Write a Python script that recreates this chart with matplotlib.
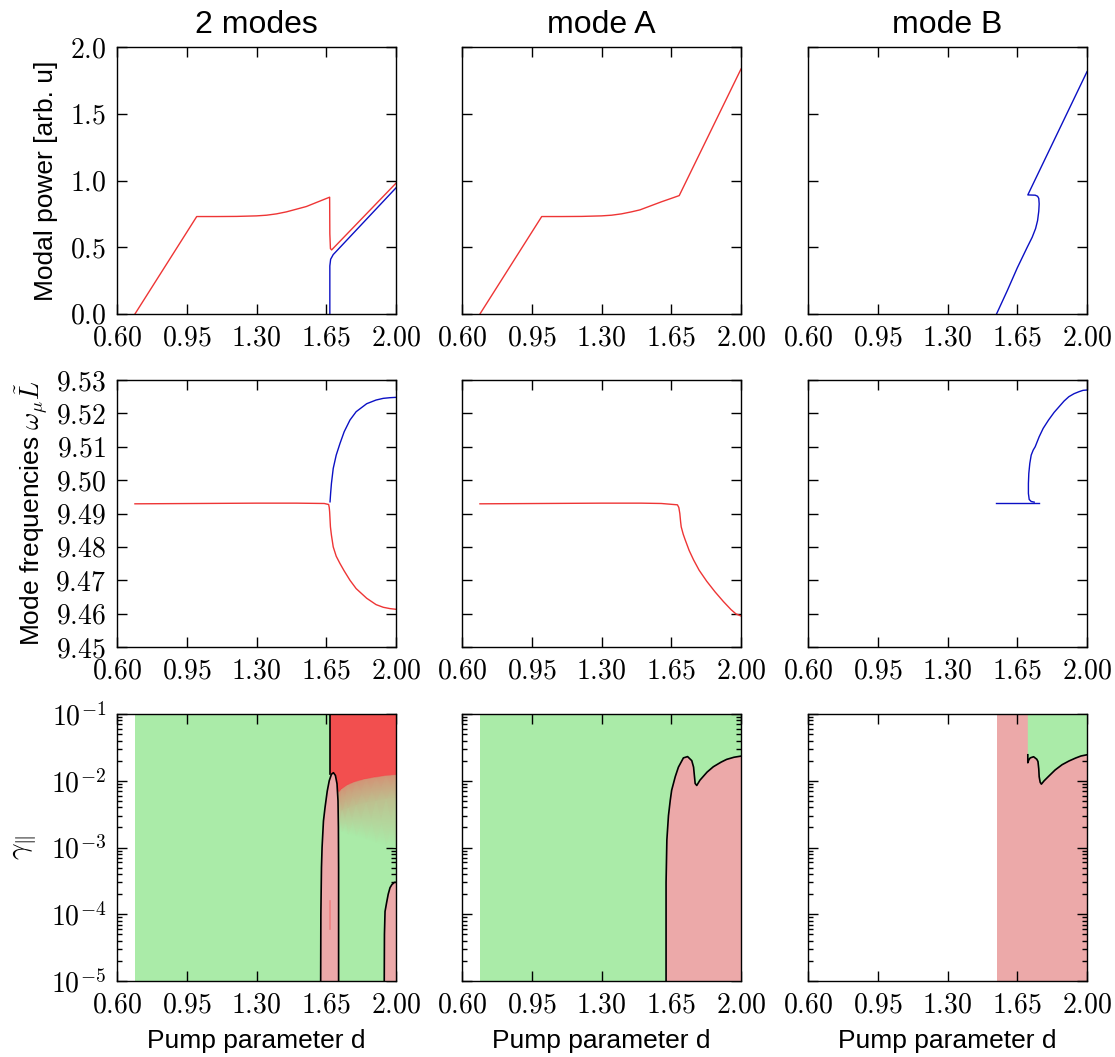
import numpy as np
import matplotlib
matplotlib.use('Agg')
import matplotlib.pyplot as plt
from matplotlib.colors import LinearSegmentedColormap

# ---- data ----
titles = ['2 modes', 'mode A', 'mode B']
x_ticks = [0.60, 0.95, 1.30, 1.65, 2.00]
power_ticks = [0.0, 0.5, 1.0, 1.5, 2.0]
freq_ticks = [9.45, 9.46, 9.47, 9.48, 9.49, 9.50, 9.51, 9.52, 9.53]
gamma_ticks = [1e-5, 1e-4, 1e-3, 1e-2, 1e-1]
gamma_labels = [r'$10^{-5}$', r'$10^{-4}$', r'$10^{-3}$', r'$10^{-2}$', r'$10^{-1}$']

# modal power
pow2_red_x = [0.69, 1.00, 1.10, 1.20, 1.30, 1.35, 1.40, 1.45, 1.50, 1.55, 1.60, 1.667, 1.668, 1.671, 1.677, 2.00]
pow2_red_y = [0.00, 0.73, 0.73, 0.731, 0.735, 0.74, 0.75, 0.765, 0.785, 0.805, 0.835, 0.875, 0.60, 0.49, 0.48, 0.98]
pow2_blue_x = [1.668, 1.668, 1.672, 1.685, 2.00]
pow2_blue_y = [0.00, 0.36, 0.41, 0.445, 0.945]
powA_x = [0.69, 1.00, 1.10, 1.20, 1.30, 1.35, 1.40, 1.45, 1.493, 1.55, 1.60, 1.65, 1.69, 2.00]
powA_y = [0.00, 0.73, 0.73, 0.731, 0.735, 0.74, 0.75, 0.765, 0.78, 0.812, 0.84, 0.866, 0.887, 1.835]
powB_x = [1.546, 1.60, 1.65, 1.70, 1.725, 1.742, 1.752, 1.758, 1.760, 1.758, 1.752, 1.740, 1.703, 2.00]
powB_y = [0.00, 0.175, 0.345, 0.50, 0.575, 0.64, 0.70, 0.77, 0.825, 0.866, 0.882, 0.890, 0.892, 1.815]

# mode frequencies
fr2_red_x = [0.69, 1.00, 1.30, 1.50, 1.64, 1.662, 1.665, 1.667, 1.671, 1.676, 1.685, 1.70, 1.719, 1.74, 1.769,
             1.80, 1.853, 1.90, 1.936, 1.97, 2.00]
fr2_red_y = [9.4929, 9.4930, 9.4931, 9.4931, 9.4930, 9.4927, 9.4918, 9.4905, 9.4860, 9.4835, 9.4800, 9.4772,
             9.4750, 9.4728, 9.4700, 9.4675, 9.4646, 9.4627, 9.4619, 9.4615, 9.4613]
fr2_blue_x = [1.669, 1.672, 1.676, 1.685, 1.70, 1.719, 1.74, 1.769, 1.80, 1.853, 1.90, 1.936, 1.97, 2.00]
fr2_blue_y = [9.4935, 9.4961, 9.4990, 9.5035, 9.5075, 9.5110, 9.5145, 9.5180, 9.5205, 9.5229, 9.5240, 9.5245,
              9.5247, 9.5248]
frA_x = [0.69, 1.00, 1.30, 1.50, 1.60, 1.681, 1.688, 1.693, 1.697, 1.70, 1.71, 1.72, 1.74, 1.762, 1.79, 1.828,
         1.87, 1.912, 1.95, 1.975, 2.00]
frA_y = [9.4929, 9.4930, 9.4931, 9.4931, 9.4930, 9.4926, 9.4918, 9.4900, 9.4875, 9.4860, 9.4838, 9.4821, 9.4789,
         9.4761, 9.4730, 9.4697, 9.4665, 9.4636, 9.4612, 9.4599, 9.4593]
frB_flat_x = [1.541, 1.76]
frB_flat_y = [9.4932, 9.4932]
frB_x = [1.735, 1.72, 1.71, 1.706, 1.706, 1.708, 1.713, 1.72, 1.73, 1.74, 1.76, 1.78, 1.807, 1.835, 1.86, 1.885,
         1.909, 1.935, 1.96, 1.98, 2.00]
frB_y = [9.4934, 9.4936, 9.4942, 9.4960, 9.4990, 9.5020, 9.5050, 9.5075, 9.5090, 9.5100, 9.5130, 9.5155, 9.5180,
         9.5203, 9.5220, 9.5237, 9.5250, 9.5259, 9.5265, 9.5269, 9.5270]

# stability maps (gamma_parallel vs d)
stable_start = 0.69
bump1_x = [1.622, 1.623, 1.626, 1.629, 1.636, 1.644, 1.655, 1.665, 1.676, 1.686, 1.696, 1.704, 1.709, 1.711, 1.712, 1.712]
bump1_y = [1e-5, 1e-4, 5e-4, 1e-3, 2.5e-3, 4e-3, 7e-3, 1.0e-2, 1.25e-2, 1.32e-2, 1.2e-2, 9e-3, 5e-3, 2e-3, 5e-4, 1e-5]
bump2_x = [1.941, 1.942, 1.945, 1.953, 1.961, 1.970, 1.980, 1.992, 2.00]
bump2_y = [1e-5, 5e-5, 1.1e-4, 1.5e-4, 2.0e-4, 2.5e-4, 2.8e-4, 3.0e-4, 3.0e-4]
red_edge_x = [1.671, 1.671]
red_edge_y = [1.25e-2, 1e-1]
streak_x = [1.668, 1.668]
streak_y = [6e-5, 1.6e-4]
fade_x = [1.671, 1.712, 1.73, 1.76, 1.80, 1.85, 1.90, 1.95, 2.00]
fade_arc = [1.30e-2, 6.6e-3, 7.6e-3, 8.8e-3, 9.8e-3, 1.07e-2, 1.14e-2, 1.20e-2, 1.23e-2]
fade_arc_lo = [1.26e-2, 6.4e-3, 7.4e-3, 8.5e-3, 9.5e-3, 1.04e-2, 1.10e-2, 1.16e-2, 1.19e-2]
fade_mid = [5e-3, 3.5e-3, 3.6e-3, 3.9e-3, 4.3e-3, 4.7e-3, 5.0e-3, 5.3e-3, 5.5e-3]
fade_end = [2.5e-3, 1.8e-3, 1.75e-3, 1.6e-3, 1.5e-3, 1.35e-3, 1.2e-3, 1.1e-3, 1.0e-3]
fade_level = [1.0, 1.0, 0.55, 0.28, 0.0]

mapA_x = [1.624, 1.624, 1.628, 1.636, 1.645, 1.652, 1.67, 1.686, 1.711, 1.732, 1.753, 1.762, 1.766, 1.770, 1.778,
          1.794, 1.83, 1.861, 1.90, 1.928, 1.965, 2.00]
mapA_y = [1e-5, 3e-4, 1.3e-3, 3e-3, 5.1e-3, 7.2e-3, 1.15e-2, 1.6e-2, 2.2e-2, 2.3e-2, 2.0e-2, 1.6e-2, 1.2e-2, 9.1e-3, 8.5e-3,
          1.02e-2, 1.35e-2, 1.62e-2, 1.9e-2, 2.09e-2, 2.25e-2, 2.34e-2]

mapB_start = 1.546
mapB_x = [1.703, 1.703, 1.708, 1.715, 1.732, 1.748, 1.754, 1.758, 1.760, 1.765, 1.771, 1.785, 1.808, 1.84, 1.875,
          1.91, 1.943, 1.97, 2.00]
mapB_y = [2.45e-2, 1.86e-2, 2.05e-2, 2.2e-2, 2.29e-2, 2.1e-2, 1.94e-2, 1.5e-2, 1.15e-2, 9.5e-3, 8.9e-3, 1.0e-2, 1.17e-2,
          1.45e-2, 1.74e-2, 1.98e-2, 2.19e-2, 2.35e-2, 2.45e-2]

# ---- style ----
plt.rcParams['font.family'] = ['Liberation Sans', 'DejaVu Sans']
plt.rcParams['mathtext.fontset'] = 'cm'
plt.rcParams['xtick.direction'] = 'in'
plt.rcParams['ytick.direction'] = 'in'
plt.rcParams['xtick.top'] = True
plt.rcParams['ytick.right'] = True
plt.rcParams['xtick.major.size'] = 7
plt.rcParams['ytick.major.size'] = 7
plt.rcParams['xtick.minor.size'] = 3.5
plt.rcParams['ytick.minor.size'] = 3.5
plt.rcParams['xtick.major.width'] = 1.0
plt.rcParams['ytick.major.width'] = 1.0
plt.rcParams['ytick.minor.width'] = 1.0
plt.rcParams['axes.linewidth'] = 1.0

red = '#ee3535'
blue = '#0b10c4'
green_fill = '#aaeba8'
pink_fill = '#eca9a9'
red_fill = '#f24f4f'
tick_fs = 20
label_fs = 19

W, H = 1115, 1057
fig = plt.figure(figsize=(W / 100, H / 100), dpi=100)

col_left = [117, 462, 808]
row_top = [47, 380, 714]
ax_w, ax_h = 279, 267

axes = []
for r in range(3):
    row = []
    for c in range(3):
        ax = fig.add_axes([col_left[c] / W, 1 - (row_top[r] + ax_h) / H, ax_w / W, ax_h / H])
        row.append(ax)
    axes.append(row)

# row 1: modal power
axes[0][0].plot(pow2_blue_x, pow2_blue_y, color=blue, lw=1.0)
axes[0][0].plot(pow2_red_x, pow2_red_y, color=red, lw=1.0)
axes[0][1].plot(powA_x, powA_y, color=red, lw=1.0)
axes[0][2].plot(powB_x, powB_y, color=blue, lw=1.0)

# row 2: frequencies
axes[1][0].plot(fr2_blue_x, fr2_blue_y, color=blue, lw=1.0)
axes[1][0].plot(fr2_red_x, fr2_red_y, color=red, lw=1.0)
axes[1][1].plot(frA_x, frA_y, color=red, lw=1.0)
axes[1][2].plot(frB_flat_x, frB_flat_y, color=blue, lw=1.0)
axes[1][2].plot(frB_x, frB_y, color=blue, lw=1.0)

# row 3: stability maps
gr_cmap = LinearSegmentedColormap.from_list('gr', [green_fill, red_fill])

ax = axes[2][0]
ax.set_yscale('log')
ax.fill([stable_start, 2.0, 2.0, stable_start], [1e-5, 1e-5, 1e-1, 1e-1], color=green_fill, lw=0, zorder=1)
fx = np.array([fade_x] * 5)
fy = np.array([[1e-1] * len(fade_x), fade_arc, fade_arc_lo, fade_mid, fade_end])
fc = np.array([[v] * len(fade_x) for v in fade_level])
ax.pcolormesh(fx, fy, fc, shading='gouraud', cmap=gr_cmap, vmin=0, vmax=1, zorder=2, rasterized=True)
ax.fill(bump1_x, bump1_y, color=pink_fill, lw=0, zorder=3)
ax.fill(bump2_x + [2.0], bump2_y + [1e-5], color=pink_fill, lw=0, zorder=3)
ax.plot(streak_x, streak_y, color=red_fill, lw=1.2, alpha=0.45, zorder=4)
ax.plot(bump1_x, bump1_y, color='black', lw=1.2, zorder=5)
ax.plot(bump2_x, bump2_y, color='black', lw=1.2, zorder=5)
ax.plot(red_edge_x, red_edge_y, color='black', lw=1.2, zorder=5)

ax = axes[2][1]
ax.set_yscale('log')
ax.fill([stable_start, 2.0, 2.0, stable_start], [1e-5, 1e-5, 1e-1, 1e-1], color=green_fill, lw=0, zorder=1)
ax.fill(mapA_x + [2.0], mapA_y + [1e-5], color=pink_fill, lw=0, zorder=2)
ax.plot(mapA_x, mapA_y, color='black', lw=1.2, zorder=5)

ax = axes[2][2]
ax.set_yscale('log')
ax.fill([mapB_start, 2.0, 2.0, mapB_start], [1e-5, 1e-5, 1e-1, 1e-1], color=pink_fill, lw=0, zorder=1)
ax.fill([mapB_x[0]] + mapB_x + [2.0], [1e-1] + mapB_y + [1e-1], color=green_fill, lw=0, zorder=2)
ax.plot(mapB_x, mapB_y, color='black', lw=1.2, zorder=5)

# ---- axes formatting ----
for r in range(3):
    for c in range(3):
        ax = axes[r][c]
        ax.set_xlim(0.6, 2.0)
        ax.set_xticks(x_ticks)
        ax.set_xticklabels([r'$%.2f$' % v for v in x_ticks], fontsize=tick_fs)
        if r == 0:
            ax.set_ylim(0, 2.0)
            ax.set_yticks(power_ticks)
            ax.set_yticklabels([r'$%.1f$' % v for v in power_ticks], fontsize=tick_fs)
            ax.set_title(titles[c], fontsize=23, pad=10)
        elif r == 1:
            ax.set_ylim(9.45, 9.53)
            ax.set_yticks(freq_ticks)
            ax.set_yticklabels([r'$%.2f$' % v for v in freq_ticks], fontsize=tick_fs)
        else:
            ax.set_ylim(1e-5, 1e-1)
            ax.set_yticks(gamma_ticks)
            ax.set_yticklabels(gamma_labels, fontsize=tick_fs)
            ax.set_xlabel('Pump parameter d', fontsize=label_fs)
            ax.xaxis.set_label_coords(0.5, -0.18)
        ax.tick_params(axis='x', which='both', pad=8)
        ax.tick_params(axis='y', which='both', pad=8)
        if c > 0:
            ax.tick_params(labelleft=False)
        for sp in ax.spines.values():
            sp.set_zorder(10)

axes[0][0].set_ylabel('Modal power [arb. u]', fontsize=label_fs)
axes[0][0].yaxis.set_label_coords(-0.21, 0.5)
axes[1][0].set_ylabel(r'Mode frequencies $\omega_\mu \tilde{L}$', fontsize=label_fs)
axes[1][0].yaxis.set_label_coords(-0.235, 0.5)
axes[2][0].set_ylabel(r'$\gamma_\|$', fontsize=label_fs + 2)
axes[2][0].yaxis.set_label_coords(-0.275, 0.5)

fig.savefig('out.png', dpi=100)
